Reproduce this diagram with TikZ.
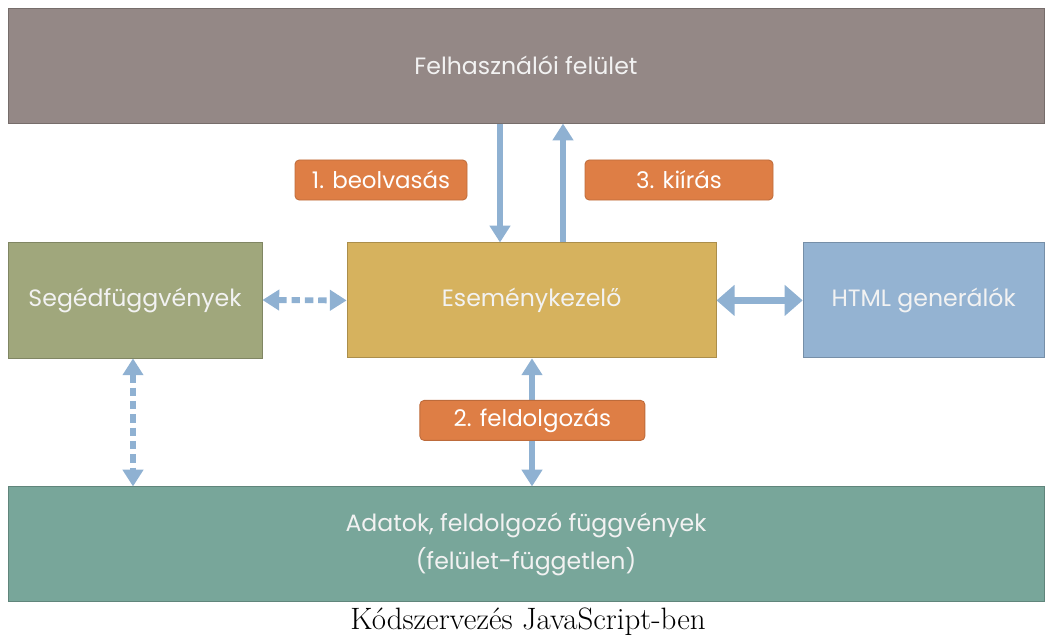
\documentclass[tikz,border=0pt]{standalone}
\usepackage{fontspec}
\newfontfamily\boxfont{Poppins}
\usetikzlibrary{arrows.meta, positioning, calc}

\definecolor{uicolor}{HTML}{948886}
\definecolor{helpcolor}{HTML}{A0A77C}
\definecolor{eventcolor}{HTML}{D6B25E}
\definecolor{htmlcolor}{HTML}{94B3D2}
\definecolor{datacolor}{HTML}{78A69A}
\definecolor{stepcolor}{HTML}{DE7E45}
\definecolor{arrowcolor}{HTML}{8FB1D2}

\begin{document}
\begin{tikzpicture}[
		every node/.style={align=center},
		box/.style={draw=#1!80!black, line width=0.6pt, fill=#1, text=white!95!black,
			font=\boxfont\fontsize{16.8}{27.5}\selectfont, inner sep=0pt},
		steplabel/.style={draw=stepcolor!85!black, line width=0.6pt, fill=stepcolor, rounded corners=3pt,
			text=white, font=\boxfont\fontsize{16.3}{19}\selectfont, minimum height=1cm, inner sep=0pt},
		arrow/.style={arrowcolor, line width=4.2pt, -{Triangle[width=0.5cm, length=0.42cm]}},
		twoway/.style={arrowcolor, line width=4.2pt, {Triangle[width=0.5cm, length=0.42cm]}-{Triangle[width=0.5cm, length=0.42cm]}},
		dashedway/.style={twoway, dash pattern=on 6pt off 3.5pt}
		]
		
		\useasboundingbox (0,0) rectangle (26.2,-16.05);
		
		% Boxes
		\node[box=uicolor, minimum width=25.9cm, minimum height=2.875cm] (ui) at (13.15,-1.64) {Felhasználói felület};
		\node[box=helpcolor, minimum width=6.35cm, minimum height=2.9cm] (helpers) at (3.375,-7.5) {Segédfüggvények};
		\node[box=eventcolor, minimum width=9.225cm, minimum height=2.875cm] (handler) at (13.29,-7.51) {Eseménykezelő};
		\node[box=htmlcolor, minimum width=6.025cm, minimum height=2.875cm] (html) at (23.09,-7.51) {HTML generálók};
		\node[box=datacolor, minimum width=25.9cm, minimum height=2.875cm] (data) at (13.15,-13.61)
			{Adatok, feldolgozó függvények\\(felület-független)};
		
		% Helper coordinates for the vertical connectors
		\coordinate (readx) at (12.5,0);
		\coordinate (writex) at (14.075,0);
		\coordinate (procx) at (13.3,0);
		\coordinate (helpx) at (3.325,0);
		
		% Connectors
		\draw[arrow] (ui.south -| readx) -- (handler.north -| readx);
		\draw[arrow] (handler.north -| writex) -- (ui.south -| writex);
		\draw[twoway] (handler.south -| procx) -- (data.north -| procx);
		\draw[dashedway] (helpers.east) -- (handler.west);
		\draw[dashedway] (helpers.south -| helpx) -- (data.north -| helpx);
		\draw[arrowcolor, line width=5.5pt, {Triangle[width=0.75cm, length=0.45cm]}-{Triangle[width=0.75cm, length=0.45cm]}]
			(handler.east) -- (html.west);
		
		% Step labels
		\node[steplabel, minimum width=4.3cm] (read) at (9.525,-4.5) {1. beolvasás};
		\node[steplabel, minimum width=4.7cm] (write) at (16.975,-4.5) {3. kiírás};
		\node[steplabel, minimum width=5.625cm] (process) at (13.31,-10.51) {2. feldolgozás};
		
		% Caption
		\node[font=\fontsize{22}{26}\selectfont] (caption) at (13.2,-15.55) {Kódszervezés JavaScript-ben};
		
	\end{tikzpicture}
\end{document}
